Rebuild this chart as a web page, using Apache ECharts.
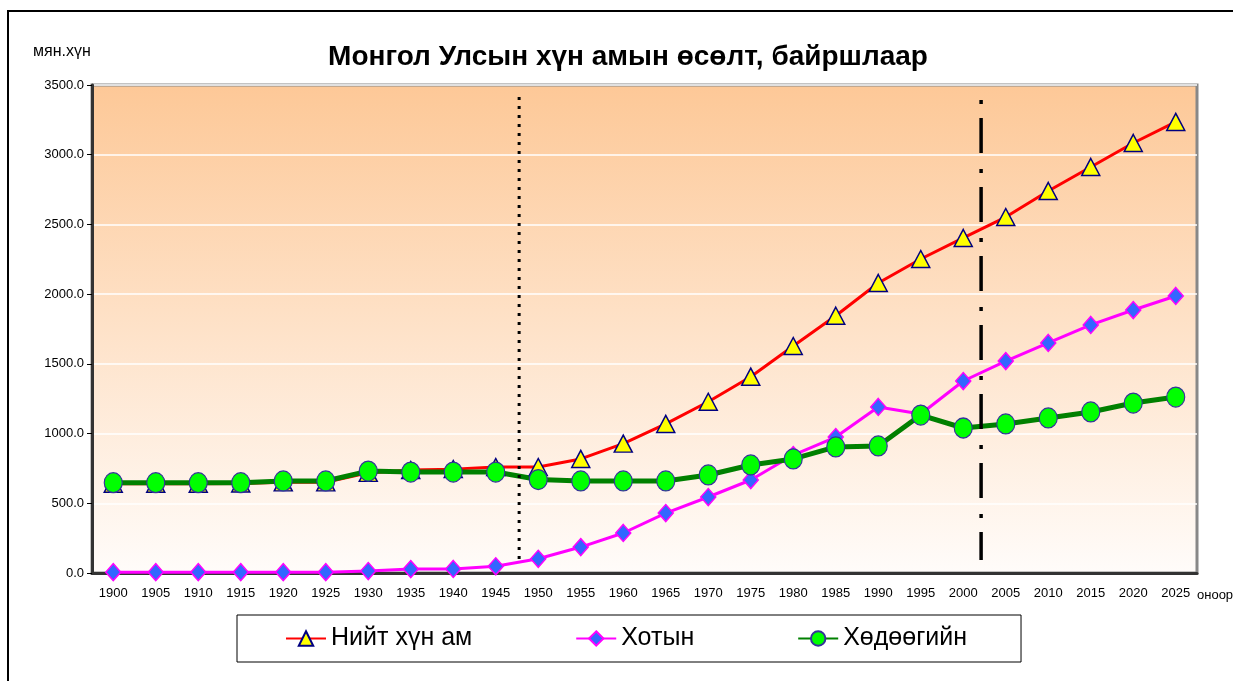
<!DOCTYPE html>
<html>
<head>
<meta charset="utf-8">
<script src="https://cdn.jsdelivr.net/npm/echarts@6/dist/echarts.min.js"></script>
<style>
  html, body { margin: 0; padding: 0; background: #fff; }
  #chart { width: 1233px; height: 681px; }
</style>
</head>
<body>
<div id="chart"></div>
<script>
const years = ['1900', '1905', '1910', '1915', '1920', '1925', '1930', '1935', '1940', '1945', '1950', '1955', '1960',
  '1965', '1970', '1975', '1980', '1985', '1990', '1995', '2000', '2005', '2010', '2015', '2020', '2025']

// мянган хүн
const total = [640, 640, 640, 642, 650, 650, 718, 738, 745, 760, 760, 818, 928, 1069, 1228, 1408, 1628, 1845, 2080,
  2252, 2403, 2553, 2740, 2912, 3084, 3235]
const urban = [6, 6, 6, 6, 6, 6, 14, 28, 29, 48, 102, 186, 287, 430, 545, 667, 846, 975, 1191, 1140, 1377, 1520,
  1650, 1779, 1886, 1987]
const rural = [648, 648, 648, 648, 660, 660, 731, 724, 724, 724, 670, 660, 660, 660, 703, 775, 818, 904, 911, 1133,
  1040, 1069, 1112, 1155, 1219, 1262]

// separators on a hidden 0..26 value axis (top point first)
const dottedLine = [[10.05, 3414], [10.05, 93]]
const dashDotLine = [[20.92, 3392], [20.92, 93]]

const font = 'Liberation Sans, Arial, sans-serif'
const chart = echarts.init(document.getElementById('chart'))

chart.setOption({
  animation: false,
  textStyle: { fontFamily: font },
  title: {
    text: 'Монгол Улсын хүн амын өсөлт, байршлаар',
    left: 623,
    textAlign: 'center',
    top: 38,
    textStyle: { fontSize: 28, fontWeight: 'bold', color: '#000', fontFamily: font }
  },
  graphic: [
    { type: 'rect', shape: { x: 8, y: 11, width: 1240, height: 700 }, style: { fill: null, stroke: '#000', lineWidth: 2 } },
    { type: 'text', left: 33, top: 44, style: { text: 'мян.хүн', font: '16px ' + font, fill: '#000' } },
    { type: 'text', left: 1197, top: 589, style: { text: 'оноор', font: '13px ' + font, fill: '#000' } }
  ],
  legend: {
    data: ['Нийт хүн ам', 'Хотын', 'Хөдөөгийн'],
    left: 237,
    top: 615,
    padding: [11, 54, 11, 48],
    itemGap: 103,
    itemWidth: 40,
    itemHeight: 18,
    borderColor: '#000',
    borderWidth: 1,
    textStyle: { fontSize: 25, color: '#000', fontFamily: font }
  },
  grid: {
    left: 92, right: 36, top: 85, bottom: 108,
    show: true,
    borderColor: '#888',
    borderWidth: 3,
    backgroundColor: new echarts.graphic.LinearGradient(0, 0, 0, 1, [
      { offset: 0, color: '#fdc897' },
      { offset: 1, color: '#fffcfa' }
    ])
  },
  xAxis: [
    {
      type: 'category',
      data: years,
      boundaryGap: true,
      axisLine: { lineStyle: { color: '#333', width: 3 } },
      axisTick: { length: 5, lineStyle: { color: '#000', width: 1 } },
      axisLabel: { color: '#000', fontSize: 13, margin: 14, interval: 0 }
    },
    { type: 'value', min: 0, max: 26, show: false }
  ],
  yAxis: {
    type: 'value',
    min: 0,
    max: 3500,
    interval: 500,
    axisLine: { show: true, lineStyle: { color: '#333', width: 3 } },
    axisTick: { show: true, length: 5, lineStyle: { color: '#000', width: 1 } },
    axisLabel: { color: '#000', fontSize: 13, margin: 8, formatter: v => v.toFixed(1) },
    splitLine: { lineStyle: { color: '#fff', width: 1.5 } }
  },
  series: [
    {
      name: 'Нийт хүн ам',
      type: 'line',
      data: total,
      symbol: 'triangle',
      symbolSize: [18, 17],
      lineStyle: { color: '#ff0000', width: 3 },
      itemStyle: { color: '#ffff00', borderColor: '#000080', borderWidth: 1.5 }
    },
    {
      name: 'Хотын',
      type: 'line',
      data: urban,
      symbol: 'diamond',
      symbolSize: [15, 17],
      lineStyle: { color: '#ff00ff', width: 3 },
      itemStyle: { color: '#3366ff', borderColor: '#ff00ff', borderWidth: 1.5 }
    },
    {
      name: 'Хөдөөгийн',
      type: 'line',
      data: rural,
      symbol: 'circle',
      symbolSize: [18, 20],
      lineStyle: { color: '#008000', width: 5 },
      itemStyle: { color: '#00ff00', borderColor: '#333399', borderWidth: 1.2 }
    },
    {
      type: 'line',
      xAxisIndex: 1,
      data: dottedLine,
      symbol: 'none',
      silent: true,
      lineStyle: { color: '#000', width: 3, type: [3, 6], cap: 'butt' }
    },
    {
      type: 'line',
      xAxisIndex: 1,
      data: dashDotLine,
      symbol: 'none',
      silent: true,
      lineStyle: { color: '#000', width: 3.5, type: [4, 14, 35, 16] }
    }
  ]
})
</script>
</body>
</html>
